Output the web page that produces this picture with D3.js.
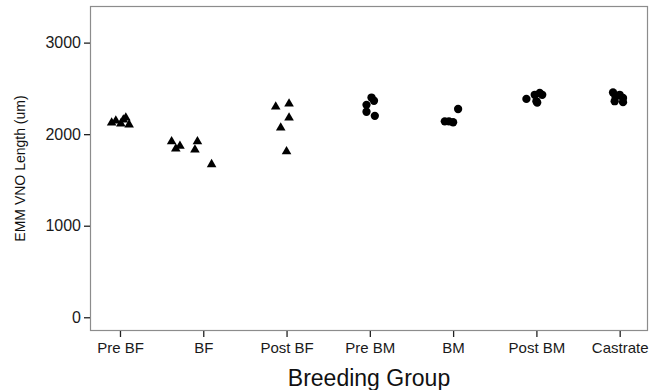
<!DOCTYPE html>
<html>
<head>
<meta charset="utf-8">
<script src="https://cdn.jsdelivr.net/npm/d3@7"></script>
<style>
  body { margin: 0; background: #fff; }
  text { font-family: "Liberation Sans", Arial, sans-serif; }
</style>
</head>
<body>
<div id="chart"></div>
<script>
// breeding groups along the x axis
var groups = ["Pre BF", "BF", "Post BF", "Pre BM", "BM", "Post BM", "Castrate"];
var femaleGroups = ["Pre BF", "BF", "Post BF"]; // drawn as triangles

// EMM VNO length per animal (um)
var preBF    = [2125, 2147, 2115, 2180, 2104, 2158];
var bf       = [1920, 1870, 1840, 1920, 1830, 1670];
var postBF   = [2300, 2333, 2180, 2070, 1810];
var preBM    = [2400, 2365, 2320, 2245, 2200];
var bm       = [2140, 2140, 2130, 2275];
var postBM   = [2385, 2430, 2450, 2430, 2360, 2345];
var castrate = [2455, 2410, 2430, 2395, 2360, 2350];

// horizontal jitter of each point (in group units)
var jitPreBF    = [-0.10, -0.05, 0.01, 0.07, 0.11, 0.04];
var jitBF       = [-0.38, -0.28, -0.33, -0.07, -0.10, 0.10];
var jitPostBF   = [-0.13, 0.03, 0.03, -0.07, 0.00];
var jitPreBM    = [0.02, 0.05, -0.04, -0.04, 0.06];
var jitBM       = [-0.10, -0.05, 0.00, 0.06];
var jitPostBM   = [-0.12, -0.02, 0.04, 0.07, 0.00, 0.01];
var jitCastrate = [-0.08, -0.05, 0.00, 0.04, -0.06, 0.04];

var yTicks = [0, 1000, 2000, 3000];

var allValues = [preBF, bf, postBF, preBM, bm, postBM, castrate];
var allJitter = [jitPreBF, jitBF, jitPostBF, jitPreBM, jitBM, jitPostBM, jitCastrate];

var points = [];
groups.forEach(function(g, i) {
    allValues[i].forEach(function(v, j) {
        points.push({ group: g, pos: i + 1 + allJitter[i][j], value: v });
    });
});

var width = 655, height = 390;
var panelL = 90, panelR = 648, panelT = 6, panelB = 331;

var svg = d3.select("#chart").append("svg")
    .attr("width", width)
    .attr("height", height);

var x = d3.scaleLinear()
    .domain([0.64, 7.34])
    .range([panelL, panelR]);

var y = d3.scaleLinear()
    .domain([-150, 3400])
    .range([panelB, panelT]);

// panel border
svg.append("rect")
    .attr("x", panelL + 0.5)
    .attr("y", panelT + 0.5)
    .attr("width", panelR - panelL - 1)
    .attr("height", panelB - panelT - 1)
    .attr("fill", "none")
    .attr("stroke", "#8c8c8c")
    .attr("stroke-width", 1.2);

// y axis
var yAxis = svg.append("g")
    .attr("transform", "translate(" + panelL + ",0)")
    .call(d3.axisLeft(y).tickValues(yTicks).tickSize(6).tickPadding(3).tickFormat(d3.format("d")));
yAxis.select(".domain").remove();
yAxis.selectAll("line").attr("stroke", "#222").attr("stroke-width", 1.3);
yAxis.selectAll("text").attr("font-size", 16).attr("fill", "#1a1a1a")
    .style("font-family", "'Liberation Sans', Arial, sans-serif");

// x axis
var xAxis = svg.append("g")
    .attr("transform", "translate(0," + panelB + ")")
    .call(d3.axisBottom(x).tickValues(d3.range(1, 8)).tickSize(6).tickPadding(5)
        .tickFormat(function(d) { return groups[d - 1]; }));
xAxis.select(".domain").remove();
xAxis.selectAll("line").attr("stroke", "#222").attr("stroke-width", 1.3);
xAxis.selectAll("text").attr("font-size", 15).attr("fill", "#1a1a1a")
    .style("font-family", "'Liberation Sans', Arial, sans-serif");

// axis titles
svg.append("text")
    .attr("x", (panelL + panelR) / 2)
    .attr("y", 386)
    .attr("text-anchor", "middle")
    .attr("font-size", 23)
    .attr("fill", "#111")
    .text("Breeding Group");

svg.append("text")
    .attr("transform", "translate(25," + ((panelT + panelB) / 2) + ") rotate(-90)")
    .attr("text-anchor", "middle")
    .attr("font-size", 14)
    .attr("fill", "#111")
    .text("EMM VNO Length (um)");

// points
var tri = d3.symbol().type(d3.symbolTriangle).size(40);
var dot = d3.symbol().type(d3.symbolCircle).size(54);

svg.selectAll("path.pt")
    .data(points)
    .enter()
    .append("path")
    .attr("class", "pt")
    .attr("d", d => femaleGroups.includes(d.group) ? tri() : dot())
    .attr("transform", d => "translate(" + x(d.pos) + "," + y(d.value) + ")")
    .attr("fill", "black");
</script>
</body>
</html>
